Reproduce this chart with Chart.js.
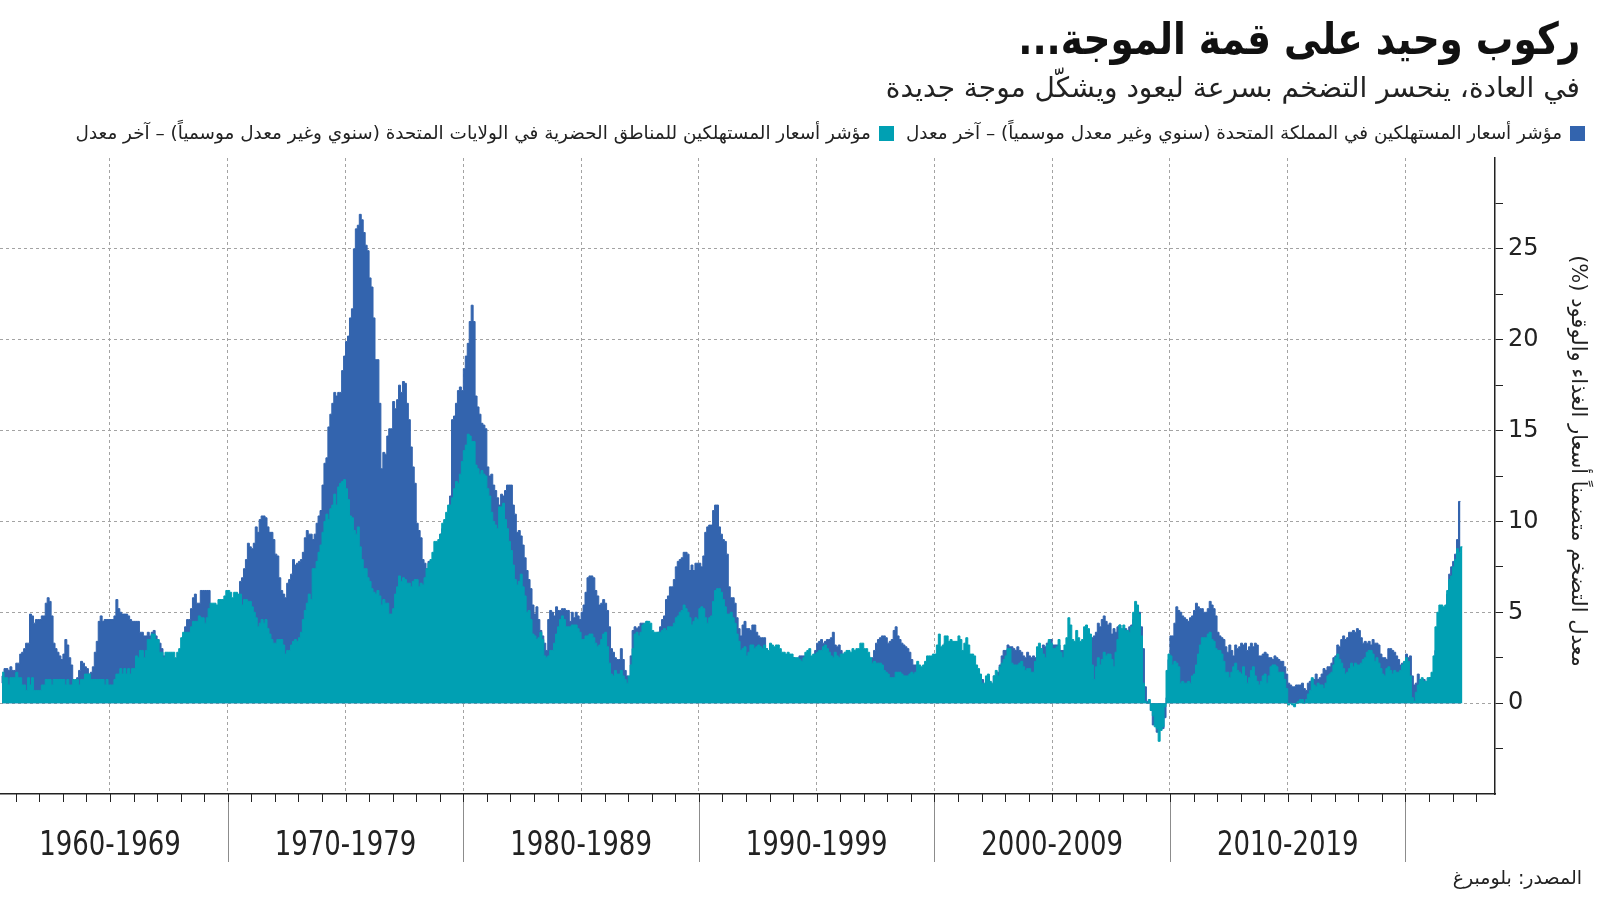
<!DOCTYPE html>
<html lang="ar">
<head>
<meta charset="utf-8">
<script src="https://cdn.jsdelivr.net/npm/chart.js@4.4.1/dist/chart.umd.min.js"></script>
<style>
  html, body { margin: 0; padding: 0; background: #fff; }
  body { width: 1600px; height: 901px; position: relative; overflow: hidden; font-family: 'DejaVu Sans', sans-serif; color: #111; }
  #chart { position: absolute; left: 0; top: 0; }
  .title { position: absolute; right: 20px; top: 12px; font-size: 44px; font-weight: bold; line-height: 54px; white-space: nowrap; transform: scaleX(0.85); transform-origin: right center; }
  .sub { position: absolute; right: 20px; top: 69px; font-size: 28px; line-height: 38px; color: #222; white-space: nowrap; }
  .legend { position: absolute; right: 15px; top: 121px; font-size: 18.4px; line-height: 24px; color: #222; display: flex; align-items: center; white-space: nowrap; }
  .legend .sw { display: inline-block; width: 15px; height: 15px; margin-left: 8px; }
  .legend .item { display: flex; align-items: center; margin-left: 12px; }
  .source { position: absolute; right: 18px; top: 864px; font-size: 19px; line-height: 26px; color: #222; white-space: nowrap; }
</style>
</head>
<body dir="rtl">
<canvas id="chart" width="1600" height="901" dir="rtl"></canvas>
<div class="title">ركوب وحيد على قمة الموجة...</div>
<div class="sub">في العادة، ينحسر التضخم بسرعة ليعود ويشكّل موجة جديدة</div>
<div class="legend">
  <div class="item"><span class="sw" style="background:#3364ae"></span><span>مؤشر أسعار المستهلكين في المملكة المتحدة (سنوي وغير معدل موسمياً) – آخر معدل</span></div>
  <div class="item"><span class="sw" style="background:#00a0b3"></span><span>مؤشر أسعار المستهلكين للمناطق الحضرية في الولايات المتحدة (سنوي وغير معدل موسمياً) – آخر معدل</span></div>
</div>
<div class="source">المصدر: بلومبرغ</div>
<script>
// monthly yoy %, first value = May 1960
const firstYear = 1960;
const firstMonth = 4;

// UK (dark blue)
const uk1960s = [
  1.1, 1.5, 1.9, 1.9, 1.8, 2.0, 1.8, 1.8,
  2.2, 2.2, 2.7, 2.8, 3.0, 3.3, 3.3, 4.9, 4.8, 4.4, 4.6, 4.6,
  4.6, 4.8, 4.8, 5.5, 5.8, 5.6, 4.8, 3.3, 3.0, 2.8, 2.6, 2.4,
  2.7, 3.5, 3.2, 2.5, 2.1, 0.9, 0.9, 1.4, 1.8, 2.3, 2.2, 2.0,
  1.9, 1.6, 1.7, 2.0, 2.8, 3.4, 4.5, 4.8, 4.5, 4.6, 4.6, 4.6,
  4.6, 4.6, 4.8, 5.7, 5.2, 5.0, 4.9, 4.9, 4.9, 4.8, 4.6, 4.5,
  4.5, 4.5, 4.5, 3.9, 3.9, 3.7, 3.7, 3.9, 3.7, 3.9, 4.0, 3.7,
  3.5, 3.3, 3.0, 2.6, 2.5, 2.3, 2.0, 1.8, 1.8, 1.9, 1.9, 2.2,
  3.0, 3.7, 4.2, 4.6, 4.6, 5.2, 5.8, 6.0, 5.5, 5.5, 6.2, 6.2,
  6.2, 6.2, 6.2, 5.4, 5.3, 5.4, 5.2, 5.0, 5.2, 5.4, 5.4, 5.0
];
const uk1970s = [
  4.9, 5.0, 5.1, 5.6, 6.0, 5.9, 6.7, 6.9, 7.4, 7.9, 8.8, 8.6,
  8.5, 8.8, 9.7, 9.4, 10.1, 10.3, 10.3, 10.2, 9.7, 9.4, 9.4, 9.0,
  8.2, 8.1, 6.9, 6.2, 6.0, 5.8, 6.6, 6.8, 7.1, 7.9, 7.6, 7.7,
  7.8, 7.9, 8.3, 9.1, 9.5, 9.3, 9.3, 9.0, 9.3, 9.9, 10.3, 10.6,
  12.0, 13.2, 13.5, 15.2, 15.9, 16.5, 17.1, 16.9, 17.1, 17.1, 18.3, 19.1,
  19.9, 20.2, 21.2, 21.7, 25.0, 26.1, 26.3, 26.9, 26.6, 25.9, 25.2, 24.9,
  23.4, 22.9, 21.2, 18.9, 18.9, 16.5, 12.9, 13.8, 13.7, 14.7, 15.1, 15.1,
  16.6, 16.2, 16.7, 17.5, 17.1, 17.7, 17.6, 16.5, 15.6, 14.1, 13.0, 12.1,
  9.9, 9.5, 9.1, 7.9, 7.7, 7.4, 7.8, 7.8, 7.8, 7.8, 8.1, 8.4,
  9.3, 9.6, 9.8, 10.1, 10.3, 11.4, 15.6, 15.8, 16.5, 17.2, 17.4, 17.2
];
const uk1980s = [
  18.4, 19.1, 19.8, 21.0, 21.9, 21.0, 16.9, 16.3, 15.9, 15.4, 15.3, 15.1,
  13.0, 12.5, 12.6, 12.0, 11.7, 11.3, 10.9, 11.5, 11.4, 11.7, 12.0, 12.0,
  12.0, 10.9, 10.4, 9.4, 9.5, 9.2, 8.7, 8.0, 7.3, 6.8, 6.3, 5.4,
  4.9, 5.3, 4.6, 4.0, 3.7, 3.3, 2.9, 4.6, 5.1, 5.0, 4.8, 5.3,
  5.1, 5.1, 5.2, 5.2, 5.1, 5.1, 4.5, 5.0, 4.7, 5.0, 4.8, 4.6,
  5.0, 5.4, 6.1, 6.9, 7.0, 7.0, 6.9, 6.2, 5.9, 5.4, 5.5, 5.7,
  5.5, 5.1, 4.2, 3.0, 2.8, 2.5, 2.4, 2.4, 3.0, 2.4, 1.8, 1.5,
  1.4, 2.6, 4.0, 4.2, 4.1, 4.2, 4.4, 4.4, 4.2, 4.5, 4.1, 3.7,
  3.3, 3.4, 3.5, 3.9, 4.2, 4.6, 4.8, 5.7, 5.9, 6.4, 6.4, 6.8,
  7.5, 7.8, 7.9, 8.0, 8.3, 8.3, 8.2, 7.3, 7.6, 7.3, 7.7, 7.7
];
const uk1990s = [
  7.7, 7.5, 8.1, 9.4, 9.7, 9.8, 9.8, 10.6, 10.9, 10.9, 9.7, 9.3,
  9.0, 8.9, 8.2, 6.4, 5.8, 5.8, 5.5, 4.7, 4.1, 3.7, 4.3, 4.5,
  4.1, 4.1, 4.0, 4.3, 4.3, 3.9, 3.7, 3.6, 3.6, 3.6, 3.0, 2.6,
  1.7, 1.8, 1.9, 1.3, 1.3, 1.2, 1.4, 1.7, 1.8, 1.4, 1.4, 1.9,
  2.5, 2.4, 2.3, 2.6, 2.6, 2.6, 2.3, 2.4, 2.2, 2.4, 2.6, 2.9,
  3.3, 3.4, 3.5, 3.3, 3.4, 3.5, 3.5, 3.6, 3.9, 3.2, 3.1, 3.2,
  2.9, 2.7, 2.7, 2.4, 2.2, 2.2, 2.2, 2.1, 2.1, 2.7, 2.7, 2.5,
  2.8, 2.7, 2.6, 2.4, 2.5, 2.9, 3.3, 3.5, 3.6, 3.7, 3.7, 3.6,
  3.3, 3.4, 3.5, 4.0, 4.2, 3.7, 3.5, 3.3, 3.2, 3.1, 3.0, 2.8,
  2.4, 2.1, 2.1, 1.6, 1.3, 1.3, 1.3, 1.1, 1.1, 1.2, 1.4, 1.8
];
const uk2000s = [
  2.0, 2.3, 2.6, 3.0, 3.1, 3.3, 3.3, 3.0, 3.3, 3.1, 3.2, 2.9,
  2.7, 2.7, 2.3, 2.0, 2.4, 1.9, 1.5, 1.8, 1.7, 1.3, 0.9, 0.7,
  1.3, 1.0, 1.3, 1.5, 1.1, 1.0, 1.5, 1.4, 1.7, 2.1, 2.6, 2.9,
  2.9, 3.2, 3.1, 3.1, 3.0, 2.9, 3.1, 2.9, 2.8, 2.6, 2.5, 2.8,
  2.6, 2.5, 2.6, 2.5, 2.8, 3.0, 3.0, 3.2, 3.1, 3.3, 3.4, 3.5,
  3.2, 3.2, 3.2, 3.2, 2.9, 2.9, 2.9, 2.8, 2.7, 2.5, 2.4, 2.2,
  2.4, 2.4, 2.4, 2.6, 3.0, 3.3, 3.3, 3.4, 3.6, 3.7, 3.9, 4.4,
  4.2, 4.6, 4.8, 4.5, 4.3, 4.4, 3.8, 4.1, 3.9, 4.2, 4.3, 4.0,
  4.1, 4.1, 3.8, 4.2, 4.3, 4.6, 5.0, 4.8, 5.0, 4.2, 3.0, 0.9,
  0.1, 0.0, -0.4, -1.2, -1.1, -1.6, -1.4, -1.3, -1.4, -0.8, 0.3, 2.4
];
const uk2010s = [
  3.7, 3.7, 4.4, 5.3, 5.1, 5.0, 4.8, 4.7, 4.6, 4.5, 4.7, 4.8,
  5.1, 5.5, 5.3, 5.2, 5.2, 5.0, 5.0, 5.2, 5.6, 5.4, 5.2, 4.8,
  3.9, 3.7, 3.6, 3.5, 3.1, 2.8, 3.2, 2.9, 2.6, 3.2, 3.0, 3.1,
  3.3, 3.2, 3.3, 2.9, 3.1, 3.3, 3.1, 3.3, 3.2, 2.6, 2.6, 2.7,
  2.8, 2.7, 2.5, 2.5, 2.4, 2.6, 2.5, 2.4, 2.3, 2.3, 2.0, 1.6,
  1.1, 1.0, 0.9, 0.9, 1.0, 1.0, 1.0, 1.1, 0.8, 0.7, 1.1, 1.2,
  1.3, 1.3, 1.6, 1.3, 1.4, 1.6, 1.9, 1.8, 2.0, 2.0, 2.2, 2.5,
  2.6, 3.2, 3.1, 3.5, 3.7, 3.5, 3.6, 3.9, 3.9, 4.0, 3.9, 4.1,
  4.0, 3.6, 3.3, 3.4, 3.3, 3.4, 3.2, 3.5, 3.3, 3.3, 3.2, 2.7,
  2.5, 2.5, 2.4, 3.0, 3.0, 2.9, 2.8, 2.6, 2.4, 2.1, 2.2, 2.2
];
const uk2020s = [
  2.7, 2.5, 2.6, 1.5, 1.0, 1.1, 1.6, 0.5, 1.1, 1.3, 0.9, 1.2,
  1.4, 1.4, 1.5, 2.9, 3.3, 3.9, 3.8, 4.8, 4.9, 6.0, 7.1, 7.5,
  7.8, 8.2, 9.0, 11.1
];

// US urban (teal)
const us1960s = [
  1.7, 1.7, 1.4, 1.4, 1.0, 1.4, 1.4, 1.4,
  1.7, 1.4, 1.4, 1.0, 1.0, 0.7, 1.4, 1.0, 1.4, 0.7, 0.7, 0.7,
  0.7, 1.0, 1.0, 1.3, 1.3, 1.3, 1.0, 1.3, 1.3, 1.3, 1.3, 1.3,
  1.3, 1.0, 1.3, 1.0, 1.0, 1.3, 1.3, 1.3, 1.0, 1.3, 1.3, 1.6,
  1.6, 1.6, 1.3, 1.3, 1.3, 1.3, 1.3, 1.3, 1.3, 1.0, 1.3, 1.0,
  1.0, 1.0, 1.3, 1.6, 1.6, 1.9, 1.6, 1.9, 1.6, 1.9, 1.6, 1.9,
  1.9, 2.6, 2.5, 2.9, 2.9, 2.5, 2.9, 3.5, 3.5, 3.8, 3.8, 3.5,
  3.5, 2.8, 2.8, 2.5, 2.8, 2.8, 2.8, 2.8, 2.8, 2.5, 2.8, 3.0,
  3.6, 3.9, 3.9, 3.9, 3.9, 4.2, 4.5, 4.5, 4.5, 4.8, 4.7, 4.7,
  4.4, 4.7, 5.2, 5.5, 5.5, 5.5, 5.4, 5.7, 5.7, 5.7, 5.9, 6.2
];
const us1970s = [
  6.2, 6.1, 5.8, 6.1, 6.1, 6.0, 6.0, 5.4, 5.7, 5.7, 5.6, 5.6,
  5.3, 5.0, 4.7, 4.2, 4.4, 4.6, 4.4, 4.6, 4.1, 3.8, 3.5, 3.3,
  3.3, 3.5, 3.5, 3.5, 3.2, 2.7, 2.9, 2.9, 3.2, 3.4, 3.5, 3.4,
  3.6, 3.9, 4.6, 5.1, 5.5, 6.0, 5.7, 7.4, 7.4, 7.8, 8.3, 8.7,
  9.4, 10.0, 10.4, 10.1, 10.7, 10.9, 11.5, 10.9, 11.9, 12.1, 12.2, 12.3,
  11.8, 11.2, 10.3, 10.2, 9.5, 9.3, 9.7, 8.6, 7.9, 7.4, 7.4, 6.9,
  6.7, 6.3, 6.1, 6.0, 6.2, 5.9, 5.4, 5.7, 5.5, 5.5, 4.9, 4.9,
  5.2, 6.0, 6.4, 7.0, 6.7, 6.9, 6.8, 6.6, 6.6, 6.4, 6.7, 6.8,
  6.8, 6.4, 6.6, 6.5, 6.9, 7.4, 7.7, 7.9, 8.3, 8.9, 8.9, 9.0,
  9.3, 9.9, 10.1, 10.5, 10.9, 10.9, 11.3, 11.8, 12.2, 12.1, 12.6, 13.3
];
const us1980s = [
  13.9, 14.2, 14.8, 14.7, 14.4, 14.4, 13.1, 12.9, 12.6, 12.8, 12.6, 12.5,
  11.8, 11.4, 10.5, 10.0, 9.8, 9.6, 10.8, 10.8, 11.0, 10.1, 9.6, 8.9,
  8.4, 7.6, 6.8, 6.5, 6.7, 7.1, 6.4, 5.9, 5.0, 5.1, 4.6, 3.8,
  3.7, 3.5, 3.6, 3.9, 3.5, 2.6, 2.5, 2.6, 2.9, 2.9, 3.3, 3.8,
  4.2, 4.6, 4.8, 4.6, 4.2, 4.2, 4.2, 4.3, 4.3, 4.3, 4.1, 3.9,
  3.5, 3.5, 3.7, 3.7, 3.8, 3.8, 3.6, 3.3, 3.1, 3.2, 3.5, 3.8,
  3.9, 3.1, 2.2, 1.6, 1.5, 1.8, 1.6, 1.6, 1.8, 1.5, 1.3, 1.1,
  1.5, 2.1, 3.0, 3.8, 3.9, 3.7, 3.9, 4.3, 4.4, 4.5, 4.5, 4.4,
  4.0, 3.9, 3.9, 3.9, 3.9, 4.0, 4.1, 4.0, 4.2, 4.2, 4.2, 4.4,
  4.7, 4.8, 5.0, 5.1, 5.4, 5.2, 5.0, 4.7, 4.3, 4.5, 4.7, 4.6
];
const us1990s = [
  5.2, 5.3, 5.2, 4.7, 4.4, 4.7, 4.8, 5.6, 6.2, 6.3, 6.3, 6.1,
  5.7, 5.3, 4.9, 4.9, 5.0, 4.7, 4.4, 3.8, 3.4, 2.9, 3.0, 3.1,
  2.6, 2.8, 3.2, 3.2, 3.0, 3.1, 3.2, 3.1, 3.0, 3.2, 3.0, 2.9,
  3.3, 3.2, 3.1, 3.2, 3.2, 3.0, 2.8, 2.8, 2.7, 2.8, 2.7, 2.7,
  2.5, 2.5, 2.5, 2.4, 2.3, 2.5, 2.8, 2.9, 3.0, 2.6, 2.7, 2.7,
  2.8, 2.9, 2.9, 3.1, 3.2, 3.0, 2.8, 2.6, 2.5, 2.8, 2.6, 2.5,
  2.7, 2.7, 2.8, 2.9, 2.9, 2.8, 3.0, 2.9, 3.0, 3.0, 3.3, 3.3,
  3.0, 3.0, 2.8, 2.5, 2.2, 2.3, 2.2, 2.2, 2.2, 2.1, 1.8, 1.7,
  1.6, 1.4, 1.4, 1.4, 1.7, 1.7, 1.7, 1.6, 1.5, 1.5, 1.5, 1.6,
  1.7, 1.6, 1.7, 2.3, 2.1, 2.0, 2.1, 2.3, 2.6, 2.6, 2.6, 2.7
];
const us2000s = [
  2.7, 3.2, 3.8, 3.1, 3.2, 3.7, 3.7, 3.4, 3.5, 3.4, 3.4, 3.4,
  3.7, 3.5, 2.9, 3.3, 3.6, 3.2, 2.7, 2.7, 2.6, 2.1, 1.9, 1.6,
  1.1, 1.1, 1.5, 1.6, 1.2, 1.1, 1.5, 1.8, 1.5, 2.0, 2.2, 2.4,
  2.6, 3.0, 3.0, 2.2, 2.1, 2.1, 2.1, 2.2, 2.3, 2.0, 1.8, 1.9,
  1.9, 1.7, 1.7, 2.3, 3.1, 3.3, 3.0, 2.7, 2.5, 3.2, 3.5, 3.3,
  3.0, 3.0, 3.1, 3.5, 2.8, 2.5, 3.2, 3.6, 4.7, 4.3, 3.5, 3.4,
  4.0, 3.6, 3.4, 3.5, 4.2, 4.3, 4.1, 3.8, 2.1, 1.3, 2.0, 2.5,
  2.1, 2.4, 2.8, 2.6, 2.7, 2.7, 2.4, 2.0, 2.8, 3.5, 4.3, 4.1,
  4.3, 4.0, 4.0, 3.9, 4.2, 5.0, 5.6, 5.4, 4.9, 3.7, 1.1, 0.1,
  0.0, 0.2, -0.4, -0.7, -1.3, -1.4, -2.1, -1.5, -1.3, -0.2, 1.8, 2.7
];
const us2010s = [
  2.6, 2.1, 2.3, 2.2, 2.0, 1.1, 1.2, 1.1, 1.1, 1.2, 1.1, 1.5,
  1.6, 2.1, 2.7, 3.2, 3.6, 3.6, 3.6, 3.8, 3.9, 3.5, 3.4, 3.0,
  2.9, 2.9, 2.7, 2.3, 1.7, 1.7, 1.4, 1.7, 2.0, 2.2, 1.8, 1.7,
  1.6, 2.0, 1.5, 1.1, 1.4, 1.8, 2.0, 1.5, 1.2, 1.0, 1.2, 1.5,
  1.6, 1.1, 1.5, 2.0, 2.1, 2.1, 2.0, 1.7, 1.7, 1.7, 1.3, 0.8,
  -0.1, 0.0, -0.1, -0.2, 0.0, 0.1, 0.2, 0.2, 0.0, 0.2, 0.5, 0.7,
  1.4, 1.0, 0.9, 1.1, 1.0, 1.0, 0.8, 1.1, 1.5, 1.6, 1.7, 2.1,
  2.5, 2.7, 2.4, 2.2, 1.9, 1.6, 1.7, 1.9, 2.2, 2.0, 2.2, 2.1,
  2.1, 2.2, 2.4, 2.5, 2.8, 2.9, 2.9, 2.7, 2.3, 2.5, 2.2, 1.9,
  1.6, 1.5, 1.9, 2.0, 1.8, 1.6, 1.8, 1.7, 1.7, 1.8, 2.1, 2.3
];
const us2020s = [
  2.5, 2.3, 1.5, 0.3, 0.1, 0.6, 1.0, 1.3, 1.4, 1.2, 1.2, 1.4,
  1.4, 1.7, 2.6, 4.2, 5.0, 5.4, 5.4, 5.3, 5.4, 6.2, 6.8, 7.0,
  7.5, 7.9, 8.5, 8.3, 8.6
];

const decadeLabels = ['1960-1969', '1970-1979', '1980-1989', '1990-1999', '2000-2009', '2010-2019'];
const decadeMids = [1965, 1975, 1985, 1995, 2005, 2015];
const yearTicks = [];
for (let y = 1961; y <= 2023; y++) yearTicks.push(y);
const yTicks = [-2.5, 0, 2.5, 5, 7.5, 10, 12.5, 15, 17.5, 20, 22.5, 25, 27.5];
const yLabels = [0, 5, 10, 15, 20, 25];
const yTitle = 'معدل التضخم متضمناً أسعار الغذاء والوقود (%)';

const ukValues = [].concat(uk1960s, uk1970s, uk1980s, uk1990s, uk2000s, uk2010s, uk2020s);
const usValues = [].concat(us1960s, us1970s, us1980s, us1990s, us2000s, us2010s, us2020s);

// x = end of each month
function toPoints(values) {
    return values.map((v, i) => ({ x: firstYear + (firstMonth + i + 1) / 12, y: v }));
}

const gridGrey = '#a3a3a3';
const axisDark = '#222';

// year ticks, decade separators and decade labels under the x axis, plus the y title
const axisExtras = {
    id: 'axisExtras',
    afterDraw(chart) {
        const { ctx, chartArea, scales: { x } } = chart;
        ctx.save();
        ctx.lineWidth = 1;
        yearTicks.forEach(year => {
            const px = Math.round(x.getPixelForValue(year)) + 0.5;
            if (year % 10 === 0) {
                ctx.strokeStyle = '#8c8c8c';
                ctx.beginPath();
                ctx.moveTo(px, chartArea.bottom);
                ctx.lineTo(px, chartArea.bottom + 68);
                ctx.stroke();
            }
            ctx.strokeStyle = axisDark;
            ctx.beginPath();
            ctx.moveTo(px, chartArea.bottom);
            ctx.lineTo(px, chartArea.bottom + 8);
            ctx.stroke();
        });

        ctx.fillStyle = '#222';
        ctx.font = "34px 'DejaVu Sans Condensed', 'DejaVu Sans', sans-serif";
        ctx.textAlign = 'center';
        ctx.textBaseline = 'middle';
        ctx.direction = 'ltr';
        decadeMids.forEach((mid, i) => {
            ctx.save();
            ctx.translate(x.getPixelForValue(mid), chartArea.bottom + 52);
            ctx.scale(0.85, 1);
            ctx.fillText(decadeLabels[i], 0, 0);
            ctx.restore();
        });

        ctx.direction = 'rtl';
        ctx.font = "21px 'DejaVu Sans', sans-serif";
        ctx.translate(chartArea.right + 82, (chartArea.top + chartArea.bottom) / 2 - 15);
        ctx.rotate(Math.PI / 2);
        ctx.fillText(yTitle, 0, 0);
        ctx.restore();
    }
};

new Chart(document.getElementById('chart').getContext('2d'), {
    type: 'line',
    data: {
        datasets: [{
            label: 'US',
            data: toPoints(usValues),
            backgroundColor: '#00a0b3',
            borderColor: '#00a0b3',
            borderWidth: 1,
            fill: 'origin',
            stepped: 'after',
            pointRadius: 0,
            order: 0
        }, {
            label: 'UK',
            data: toPoints(ukValues),
            backgroundColor: '#3364ae',
            borderColor: '#3364ae',
            borderWidth: 1,
            fill: 'origin',
            stepped: 'after',
            pointRadius: 0,
            order: 1
        }]
    },
    options: {
        responsive: false,
        animation: false,
        devicePixelRatio: 1,
        layout: { padding: { top: 158, left: 0, right: 0, bottom: 0 } },
        plugins: { legend: { display: false }, tooltip: { enabled: false } },
        scales: {
            x: {
                type: 'linear',
                min: 1960.33,
                max: 2023.8,
                afterBuildTicks: s => { s.ticks = yearTicks.map(v => ({ value: v })); },
                afterFit: s => { s.height = 107; s.paddingLeft = 0; s.paddingRight = 0; },
                grid: {
                    color: c => (c.tick && c.tick.value % 5 === 0) ? gridGrey : 'rgba(0,0,0,0)',
                    lineWidth: 1,
                    drawTicks: false
                },
                border: { display: true, color: axisDark, width: 1.5, dash: [3, 3] },
                ticks: { display: false }
            },
            y: {
                position: 'right',
                min: -5,
                max: 30,
                afterBuildTicks: s => { s.ticks = yTicks.map(v => ({ value: v })); },
                afterFit: s => { s.width = 105; },
                grid: {
                    color: c => (c.tick && yLabels.includes(c.tick.value)) ? gridGrey : 'rgba(0,0,0,0)',
                    lineWidth: 1,
                    tickColor: axisDark,
                    tickLength: 8
                },
                border: { display: true, color: axisDark, width: 1.5, dash: [3, 3] },
                ticks: {
                    padding: 5,
                    color: '#222',
                    font: { family: "'DejaVu Sans', sans-serif", size: 24 },
                    callback: v => yLabels.includes(v) ? String(v) : ''
                }
            }
        }
    },
    plugins: [axisExtras]
});
</script>
</body>
</html>
